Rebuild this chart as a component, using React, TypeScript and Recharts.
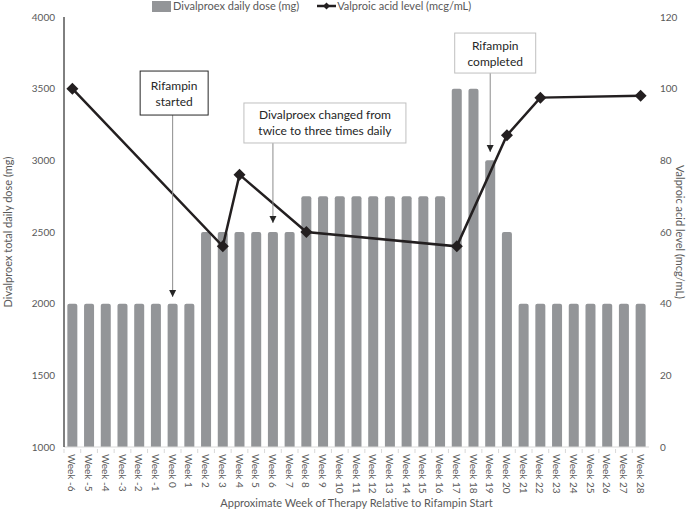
import { ComposedChart, Bar, Line, XAxis, YAxis, ReferenceLine } from "recharts"

const weeks = [
  "Week -6", "Week -5", "Week -4", "Week -3", "Week -2", "Week -1", "Week 0", "Week 1",
  "Week 2", "Week 3", "Week 4", "Week 5", "Week 6", "Week 7", "Week 8", "Week 9",
  "Week 10", "Week 11", "Week 12", "Week 13", "Week 14", "Week 15", "Week 16", "Week 17",
  "Week 18", "Week 19", "Week 20", "Week 21", "Week 22", "Week 23", "Week 24", "Week 25",
  "Week 26", "Week 27", "Week 28",
]

// Divalproex total daily dose (mg)
const doses = [
  2000, 2000, 2000, 2000, 2000, 2000, 2000, 2000,
  2500, 2500, 2500, 2500, 2500, 2500, 2750, 2750,
  2750, 2750, 2750, 2750, 2750, 2750, 2750, 3500,
  3500, 3000, 2500, 2000, 2000, 2000, 2000, 2000,
  2000, 2000, 2000,
]

// Valproic acid level (mcg/mL), measured weeks only
const levels = [
  100, null, null, null, null, null, null, null,
  null, 56, 76, null, null, null, 60, null,
  null, null, null, null, null, null, null, 56,
  null, null, 87, null, 97.5, null, null, null,
  null, null, 98,
]

const doseTicks = [1000, 1500, 2000, 2500, 3000, 3500, 4000]
const levelTicks = [0, 20, 40, 60, 80, 100, 120]

const data = weeks.map((week, i) => ({ week, dose: doses[i], level: levels[i] }))

const annotations = [
  { week: "Week 0", lines: ["Rifampin", "started"], from: 3316, to: 2047, w: 68, h: 44, dx: 1.5, border: "#262626" },
  { week: "Week 6", lines: ["Divalproex changed from", "twice to three times daily"], from: 3121, to: 2563, w: 162, h: 40, dx: 52, border: "#bfbfbf" },
  { week: "Week 19", lines: ["Rifampin", "completed"], from: 3609, to: 3058, w: 81, h: 40, dx: 5, border: "#bfbfbf" },
]

const GRAY_TEXT = "#595959"

const WeekTick = (props: any) => {
  const { x, y, payload } = props
  const half = payload?.offset || 8.35
  return (
    <g>
      <line x1={x - half} x2={x - half} y1={y} y2={y + 4} stroke="#d9d9d9" />
      <text
        x={x}
        y={y + 5}
        transform={`rotate(90 ${x} ${y + 5})`}
        textAnchor="start"
        dominantBaseline="central"
        fontSize={10}
        fill={GRAY_TEXT}
      >
        {payload.value}
      </text>
    </g>
  )
}

const Diamond = (props: any) => {
  const { cx, cy } = props
  if (cx == null || cy == null || props.value == null) return null
  const r = 6
  return <path d={`M${cx},${cy - r}L${cx + r},${cy}L${cx},${cy + r}L${cx - r},${cy}Z`} fill="#231f20" />
}

const AnnotationBox = (props: any) => {
  const { viewBox, lines, w, h, dx, border } = props
  const cx = viewBox.x + dx
  const top = viewBox.y - h
  const tipY = viewBox.y + viewBox.height
  return (
    <g>
      <rect x={cx - w / 2} y={top} width={w} height={h} fill="#fff" stroke={border} strokeWidth={1} />
      {lines.map((t: string, i: number) => (
        <text
          key={i}
          x={cx}
          y={top + h / 2 + (i - 0.5) * 16}
          textAnchor="middle"
          dominantBaseline="central"
          fontSize={12}
          fill="#262626"
        >
          {t}
        </text>
      ))}
      <path d={`M${viewBox.x - 3.5},${tipY - 7}L${viewBox.x + 3.5},${tipY - 7}L${viewBox.x},${tipY}Z`} fill="#262626" />
    </g>
  )
}

export default function App() {
  return (
    <div style={{ position: "absolute", left: 0, top: 0, width: 688, height: 515, fontFamily: "Lato, sans-serif", background: "#fff" }}>
      <ComposedChart width={688} height={515} data={data} margin={{ top: 17, right: 0, bottom: 0, left: 0 }} barCategoryGap="20%">
        <XAxis
          dataKey="week"
          interval={0}
          height={68}
          tickSize={0}
          tickLine={false}
          axisLine={{ stroke: "#d9d9d9" }}
          tick={<WeekTick />}
          label={{
            value: "Approximate Week of Therapy Relative to Rifampin Start",
            position: "insideBottom",
            offset: 8,
            fontSize: 11,
            fill: GRAY_TEXT,
          }}
        />
        <YAxis
          yAxisId="left"
          domain={[1000, 4000]}
          ticks={doseTicks}
          width={64}
          tickSize={0}
          tickMargin={9}
          tickLine={false}
          axisLine={{ stroke: "#000" }}
          tick={{ fontSize: 10, fill: GRAY_TEXT }}
          label={{
            value: "Divalproex total daily dose (mg)",
            angle: -90,
            position: "center",
            dx: -24,
            fontSize: 11,
            fill: GRAY_TEXT,
          }}
        />
        <YAxis
          yAxisId="right"
          orientation="right"
          domain={[0, 120]}
          ticks={levelTicks}
          width={39}
          tickSize={0}
          tickMargin={11}
          tickLine={false}
          axisLine={false}
          tick={{ fontSize: 10, fill: GRAY_TEXT }}
          label={{
            value: "Valproic acid level (mcg/mL)",
            angle: 90,
            position: "center",
            dx: 11,
            fontSize: 11,
            fill: GRAY_TEXT,
          }}
        />
        <Bar yAxisId="left" dataKey="dose" fill="#939598" radius={[2, 2, 0, 0]} isAnimationActive={false} />
        <Line
          yAxisId="right"
          dataKey="level"
          stroke="#231f20"
          strokeWidth={2.5}
          connectNulls
          dot={<Diamond />}
          activeDot={false}
          isAnimationActive={false}
        />
        {annotations.map((a) => (
          <ReferenceLine
            key={a.week}
            yAxisId="left"
            segment={[{ x: a.week, y: a.from }, { x: a.week, y: a.to }]}
            stroke="#8c8c8c"
            strokeWidth={1}
            ifOverflow="visible"
            label={<AnnotationBox lines={a.lines} w={a.w} h={a.h} dx={a.dx} border={a.border} />}
          />
        ))}
      </ComposedChart>
      <div style={{ position: "absolute", top: 0, left: 152, display: "flex", alignItems: "center", fontSize: 11, color: GRAY_TEXT, lineHeight: "12px" }}>
        <span style={{ width: 19, height: 11, background: "#939598", display: "inline-block", marginRight: 2 }} />
        <span>Divalproex daily dose (mg)</span>
        <svg width={19} height={12} style={{ marginLeft: 18 }}>
          <line x1={0} x2={19} y1={6} y2={6} stroke="#231f20" strokeWidth={2.5} />
          <path d="M9.5,2.5L13,6L9.5,9.5L6,6Z" fill="#231f20" />
        </svg>
        <span style={{ marginLeft: 1 }}>Valproic acid level (mcg/mL)</span>
      </div>
    </div>
  )
}
